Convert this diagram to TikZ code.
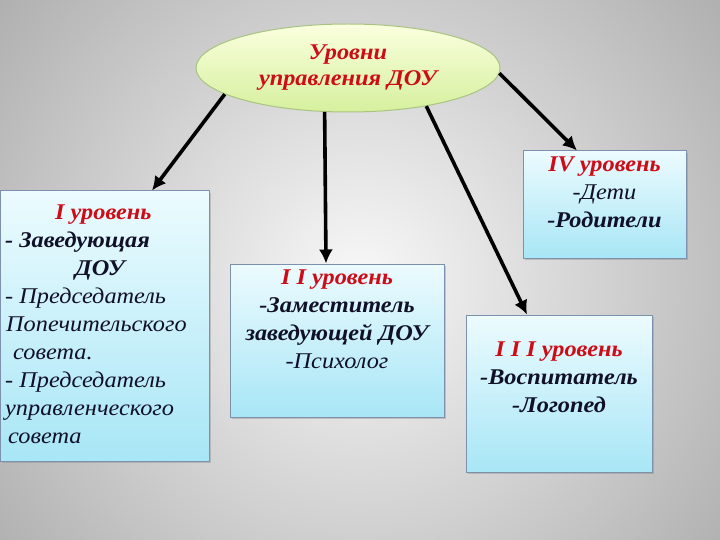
\documentclass[tikz,border=0pt]{standalone}
\usepackage{fontspec}
\setmainfont{Liberation Serif}[FakeStretch=1.08]
\usetikzlibrary{arrows.meta,shapes.geometric,shadows}

\definecolor{bginner}{RGB}{248,248,248}
\definecolor{bgouter}{RGB}{128,128,128}
\definecolor{boxtop}{RGB}{236,251,254}
\definecolor{boxbottom}{RGB}{168,230,246}
\definecolor{boxedge}{RGB}{125,145,172}
\definecolor{hubtop}{RGB}{250,255,222}
\definecolor{hubbottom}{RGB}{214,240,158}
\definecolor{hubedge}{RGB}{168,196,128}
\definecolor{headred}{RGB}{205,12,24}
\definecolor{textdark}{RGB}{16,16,40}

\newcommand{\lvlhead}[1]{{\color{headred}\bfseries\itshape #1}}
\newcommand{\lvlbold}[1]{{\bfseries\itshape #1}}

\begin{document}
\begin{tikzpicture}[
  x=1pt,
  y=-1pt,
  font=\fontsize{22.5}{28}\selectfont\itshape,
  levelbox/.style={draw=boxedge, line width=1pt, top color=boxtop,
    bottom color=boxbottom, inner sep=0pt,
    drop shadow={shadow xshift=2pt, shadow yshift=-2pt, opacity=0.35}},
  leveltext/.style={anchor=north, inner sep=0pt, align=center, text=textdark},
  hub/.style={ellipse, draw=hubedge, line width=1pt, top color=hubtop,
    bottom color=hubbottom, inner sep=0pt, align=center,
    font=\fontsize{22.5}{26}\selectfont\bfseries\itshape, text=headred},
  arr/.style={line width=3.6pt, -{Latex[length=14pt,width=14pt]}}
]

% Grey background
\useasboundingbox (0,0) rectangle (720,540);
\begin{scope}
  \clip (0,0) rectangle (720,540);
  \shade[inner color=bginner, outer color=bgouter] (360,280) circle (760);
\end{scope}

% Top ellipse
\node[hub, minimum width=304, minimum height=88] (hub) at (348,68)
  {Уровни\\управления ДОУ};

% Level boxes
\node[levelbox, minimum width=209, minimum height=270] (lvlone) at (104.5,326) {};
\node[levelbox, minimum width=214, minimum height=153] (lvltwo) at (337,340.5) {};
\node[levelbox, minimum width=186, minimum height=157] (lvlthree) at (559,393.5) {};
\node[levelbox, minimum width=163, minimum height=107] (lvlfour) at (604.5,204.5) {};

% Box texts
\node[leveltext, anchor=north west, align=left] (txtone) at (5,205) {%
\hspace*{50pt}\lvlhead{I уровень}\\
\lvlbold{- Заведующая}\\
\hspace*{70pt}\lvlbold{ДОУ}\\
- Председатель\\
\hspace*{1pt}Попечительского\\
\hspace*{8pt}совета.\\
- Председатель\\
управленческого\\
\hspace*{3pt}совета};

\node[leveltext] (txttwo) at (337,270) {%
\lvlhead{I I уровень}\\
\lvlbold{-Заместитель}\\
\lvlbold{заведующей ДОУ}\\
-Психолог};

\node[leveltext] (txtthree) at (559,342) {%
\lvlhead{I I I уровень}\\
\lvlbold{-Воспитатель}\\
\lvlbold{-Логопед}};

\node[leveltext] (txtfour) at (604.5,157) {%
\lvlhead{IV уровень}\\
-Дети\\
\lvlbold{-Родители}};

% Arrows
\draw[arr] (hub.192) -- ([xshift=47.5pt]lvlone.north);
\draw[arr] (hub.242) -- ([xshift=-11pt]lvltwo.north);
\draw[arr] (hub.334) -- ([xshift=-32pt]lvlthree.north);
\draw[arr] (hub.-2) -- ([xshift=-27.5pt]lvlfour.north);

\end{tikzpicture}
\end{document}
